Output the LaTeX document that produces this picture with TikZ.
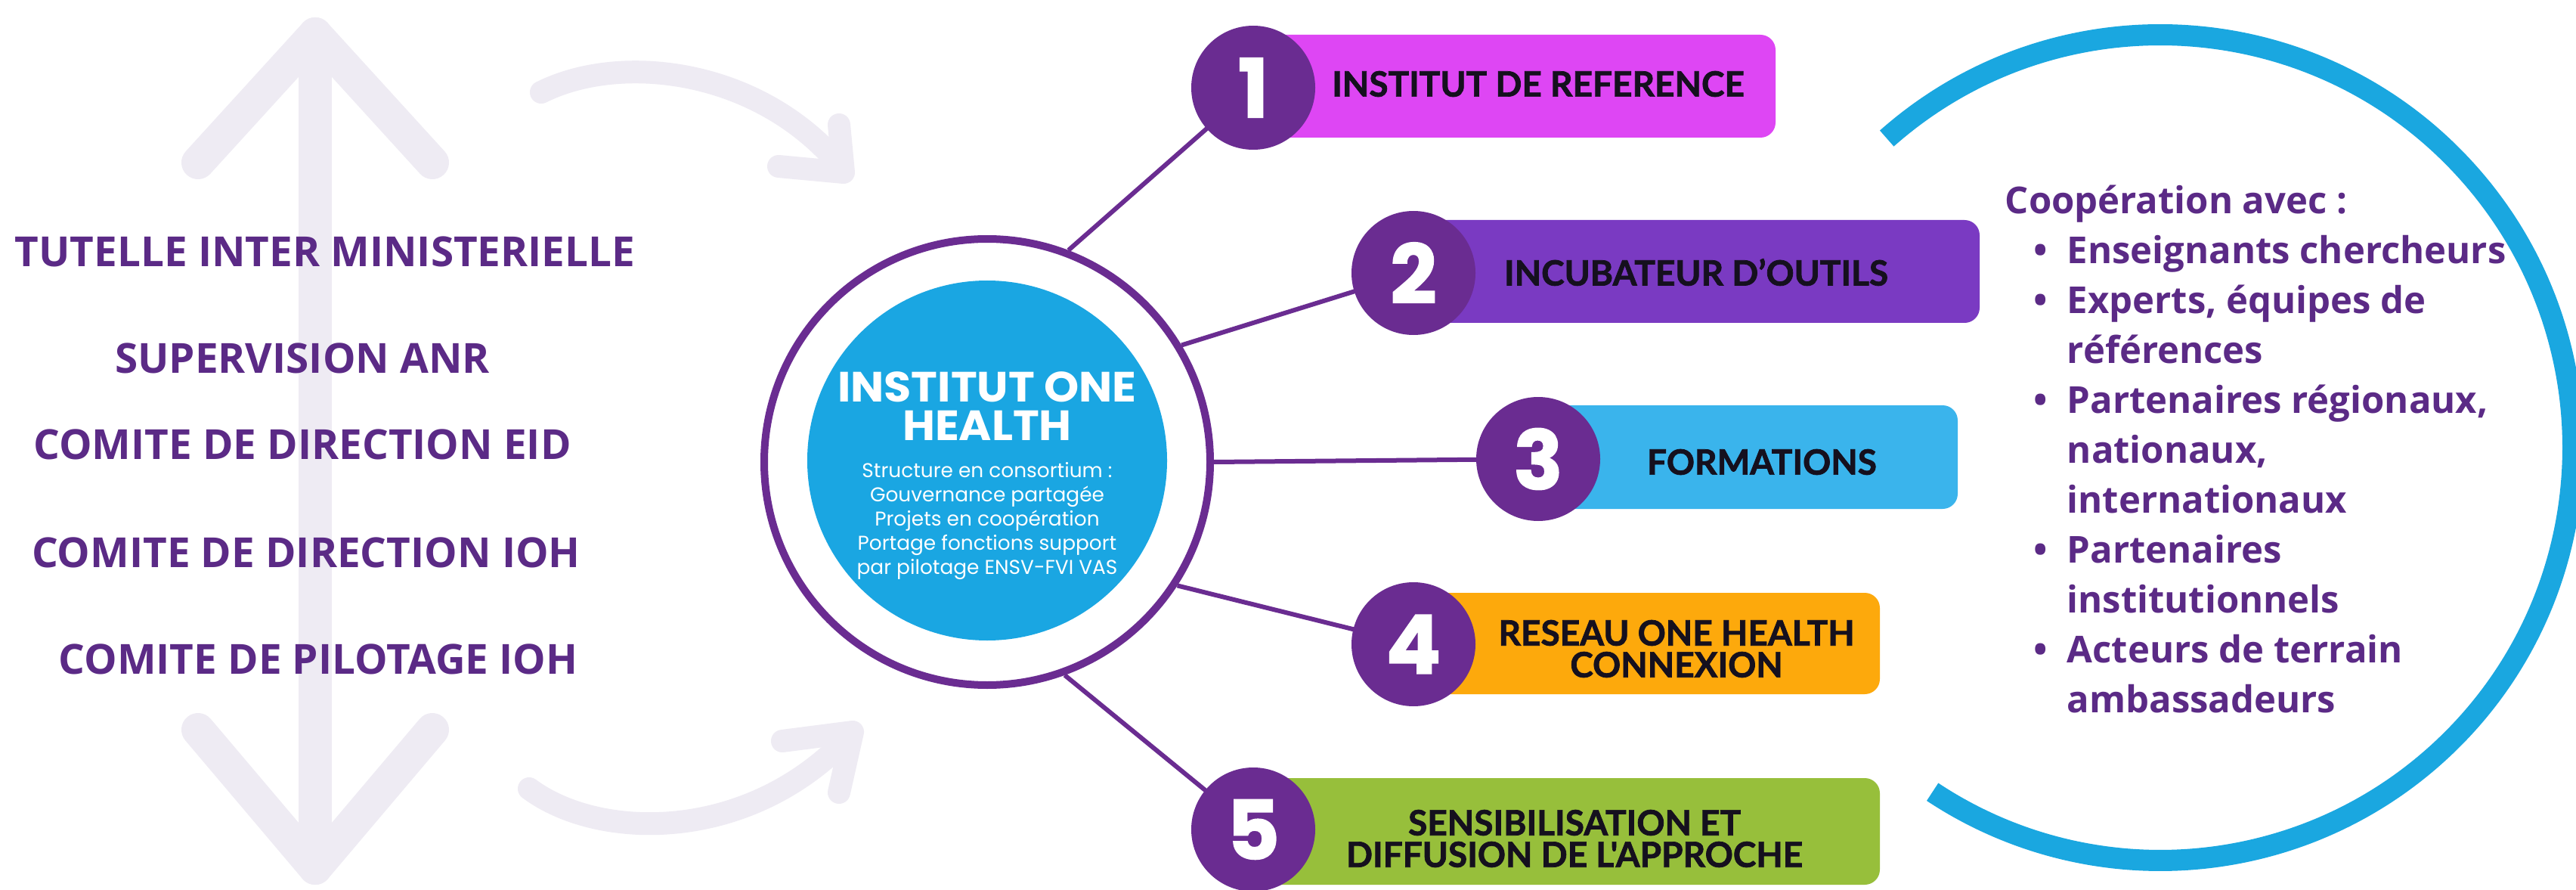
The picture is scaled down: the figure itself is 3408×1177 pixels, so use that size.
\documentclass[tikz,border=0pt]{standalone}
\usepackage{fontspec}
\setmainfont{Open Sans}
\newfontfamily\boxfont{Lato}[BoldFeatures={FakeBold=1.6}]
\newfontfamily\geofont{Poppins}
\newfontfamily\titlefont{Poppins}[FakeStretch=1.05]
\newfontfamily\digitfont{Poppins}[BoldFeatures={FakeBold=1.5}]
\usetikzlibrary{backgrounds}
\definecolor{ohpurple}{HTML}{6A2C91}
\definecolor{lefttext}{HTML}{5B2A86}
\definecolor{lavender}{HTML}{EEEBF3}
\definecolor{coreblue}{HTML}{1AA6E2}
\definecolor{arcblue}{HTML}{1AA7E0}
\definecolor{boxmagenta}{HTML}{DE46F4}
\definecolor{boxpurple}{HTML}{7A3AC2}
\definecolor{boxblue}{HTML}{3AB4EC}
\definecolor{boxorange}{HTML}{FDA90C}
\definecolor{boxgreen}{HTML}{97BF3B}
\definecolor{boxink}{HTML}{15101E}
\newcommand\coopitem{\makebox[20.5pt][l]{\hspace*{9.5pt}\textbullet}}
\newcommand\coopcont{\hspace*{20.5pt}}
\begin{document}
\begin{tikzpicture}[x=0.25pt,y=-0.25pt,
  lavstroke/.style={draw=lavender, line width=11pt, line cap=round, line join=round},
  lavcurve/.style={draw=lavender, line width=7.5pt, line cap=round, line join=round},
  govtext/.style={text=lefttext, font=\bfseries\fontsize{13.7}{16}\selectfont, inner sep=0pt},
  ring/.style={circle, draw=ohpurple, line width=2.5pt, minimum size=147.5pt, inner sep=0pt},
  disk/.style={circle, fill=coreblue, minimum size=119pt, inner sep=0pt},
  numdisk/.style={circle, fill=ohpurple, minimum size=41pt, inner sep=0pt, text=white, font=\digitfont\bfseries\fontsize{27}{27}\selectfont},
  bar/.style={rectangle, rounded corners=5pt, inner sep=0pt, minimum height=34pt},
  bartext/.style={text=boxink, font=\boxfont\bfseries\fontsize{11.5}{10.5}\selectfont, align=center, inner sep=0pt},
  conn/.style={draw=ohpurple, line width=1.5pt},
  coop/.style={text=lefttext, font=\bfseries\fontsize{12.25}{16.5}\selectfont, align=left, inner sep=0pt},
  arcband/.style={draw=arcblue, line width=7pt}
]
\useasboundingbox (0,0) rectangle (3408,1177);

% numbered bars
\node[bar, fill=boxmagenta, minimum width=172.75pt] (b1) at (2003.5,114) {};
\node[bar, fill=boxpurple, minimum width=187.25pt] (b2) at (2244.5,359) {};
\node[bar, fill=boxblue, minimum width=138.75pt, minimum height=34.25pt] (b3) at (2312.5,604.5) {};
\node[bar, fill=boxorange, minimum width=154.25pt, minimum height=33.5pt] (b4) at (2178.5,851) {};
\node[bar, fill=boxgreen, minimum width=207.25pt, minimum height=35.25pt] (b5) at (2072.5,1099.5) {};

\node[bartext] (t1) at (2035,111) {INSTITUT DE REFERENCE};
\node[bartext] (t2) at (2244,360) {INCUBATEUR D’OUTILS};
\node[bartext] (t3) at (2331,611) {FORMATIONS};
\node[bartext] (t4) at (2218,858) {RESEAU ONE HEALTH\\CONNEXION};
\node[bartext] (t5) at (2083,1109) {SENSIBILISATION ET\\DIFFUSION DE L'APPROCHE};

\node[numdisk] (c1) at (1658,116) {1};
\node[numdisk] (c2) at (1870,361) {2};
\node[numdisk] (c3) at (2035,607) {3};
\node[numdisk] (c4) at (1870,852) {4};
\node[numdisk] (c5) at (1658,1097) {5};

% central institute
\node[ring] (core) at (1306,611) {};
\node[disk] (disk) at (1306,609) {};
\node[text=white, font=\titlefont\bfseries\fontsize{14}{12.6}\selectfont, align=center, inner sep=0pt] (title) at (1306,537) {INSTITUT ONE\\HEALTH};
\node[text=white, font=\geofont\fontsize{6.6}{8}\selectfont, align=center, inner sep=0pt] (subtitle) at (1306,689) {Structure en consortium :\\Gouvernance partagée\\Projets en coopération\\Portage fonctions support\\par pilotage ENSV-FVI VAS};

% governance list
\node[govtext] (g1) at (430,333) {TUTELLE INTER MINISTERIELLE};
\node[govtext] (g2) at (400,474) {SUPERVISION ANR};
\node[govtext] (g3) at (400,588) {COMITE DE DIRECTION EID};
\node[govtext] (g4) at (405,731) {COMITE DE DIRECTION IOH};
\node[govtext] (g5) at (421,872) {COMITE DE PILOTAGE IOH};

% cooperation list
\node[coop, anchor=north west] (coop) at (2652,244) {Coopération avec :\\
\coopitem Enseignants chercheurs\\
\coopitem Experts, équipes de\\
\coopcont références\\
\coopitem Partenaires régionaux,\\
\coopcont nationaux,\\
\coopcont internationaux\\
\coopitem Partenaires\\
\coopcont institutionnels\\
\coopitem Acteurs de terrain\\
\coopcont ambassadeurs};

% blue open circle
\coordinate (arcc) at (2858,592);
\draw[arcband] (arcc) ++(-131.5:546) arc[start angle=-131.5, end angle=123.5, radius=546];

\begin{scope}[on background layer]
  \fill[white] (0,0) rectangle (3408,1177);
  % faint double arrow
  \draw[lavstroke] (417,45) -- (417,1148);
  \draw[lavstroke] (262,215) -- (417,45) -- (572,215);
  \draw[lavstroke] (262,965) -- (417,1148) -- (572,965);
  % faint curved arrows
  \draw[lavcurve] (716,122) .. controls (820,70) and (1000,90) .. (1108,215);
  \draw[lavcurve] (1110,165) -- (1116,228) -- (1030,220);
  \draw[lavcurve] (700,1043) .. controls (790,1110) and (980,1115) .. (1112,985);
  \draw[lavcurve] (1035,980) -- (1128,968) -- (1110,1048);
  % connectors
  \draw[conn] (core.69) -- (c1.center);
  \draw[conn] (core.31) -- (c2.center);
  \draw[conn] (core.0) -- (c3.center);
  \draw[conn] (core.-33) -- (c4.center);
  \draw[conn] (core.-70) -- (c5.center);
\end{scope}
\end{tikzpicture}
\end{document}
